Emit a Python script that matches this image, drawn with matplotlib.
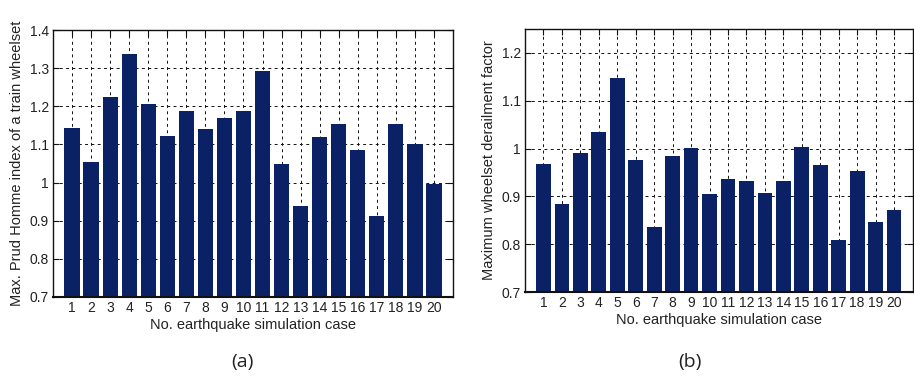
import matplotlib
matplotlib.use("Agg")
import matplotlib.pyplot as plt
import numpy as np

cases = list(range(1, 21))
prud_homme = [1.143, 1.054, 1.224, 1.337, 1.206, 1.122, 1.188, 1.140, 1.169, 1.188,
              1.293, 1.049, 0.939, 1.119, 1.154, 1.085, 0.912, 1.154, 1.101, 0.996]
derailment = [0.967, 0.885, 0.990, 1.035, 1.148, 0.977, 0.835, 0.985, 1.002, 0.904,
              0.937, 0.933, 0.908, 0.933, 1.004, 0.965, 0.808, 0.954, 0.846, 0.871]
yticks_a = [0.7, 0.8, 0.9, 1.0, 1.1, 1.2, 1.3, 1.4]
ytick_labels_a = ["0.7", "0.8", "0.9", "1", "1.1", "1.2", "1.3", "1.4"]
yticks_b = [0.7, 0.8, 0.9, 1.0, 1.1, 1.2]
ytick_labels_b = ["0.7", "0.8", "0.9", "1", "1.1", "1.2"]

plt.rcParams['font.family'] = ['Liberation Sans', 'DejaVu Sans']

fig = plt.figure(figsize=(9.14, 3.78), dpi=100)
ax1 = fig.add_axes([0.058, 0.2143, 0.4376, 0.7063])
ax2 = fig.add_axes([0.5744, 0.2275, 0.4240, 0.6958])

bar_color = '#0b2165'

def style(ax, values, ylim, yticks, ylabels, ylabel):
    ax.bar(cases, values, width=0.8, color=bar_color, zorder=2)
    ax.set_xlim(0, 21)
    ax.set_ylim(*ylim)
    ax.set_xticks(cases)
    ax.set_xticklabels([str(c) for c in cases], fontsize=10)
    ax.set_yticks(yticks)
    ax.set_yticklabels(ylabels, fontsize=10)
    ax.set_axisbelow(True)
    ax.grid(True, color='#111111', linestyle=(0, (3, 3.5)), linewidth=0.7)
    ax.tick_params(direction='in', top=True, right=True, length=4, width=0.8,
                   pad=3, colors='#111111', labelcolor='#222222')
    for s in ax.spines.values():
        s.set_linewidth(1.0)
        s.set_color('#111111')
    ax.spines['bottom'].set_linewidth(1.5)
    ax.set_xlabel("No. earthquake simulation case", fontsize=10.5, color='#222222', labelpad=2)
    ax.set_ylabel(ylabel, fontsize=10.5, color='#222222', labelpad=4)

style(ax1, prud_homme, (0.7, 1.4), yticks_a, ytick_labels_a,
      "Max. Prud Homme index of a train wheelset")
style(ax2, derailment, (0.7, 1.25), yticks_b, ytick_labels_b,
      "Maximum wheelset derailment factor")

fig.text(242 / 914, 1 - 362 / 378, "(a)", ha='center', va='center', fontsize=14,
         family=['Open Sans', 'DejaVu Sans'], color='#222222')
fig.text(690 / 914, 1 - 362 / 378, "(b)", ha='center', va='center', fontsize=14,
         family=['Open Sans', 'DejaVu Sans'], color='#222222')

fig.savefig("out.png", dpi=100)
